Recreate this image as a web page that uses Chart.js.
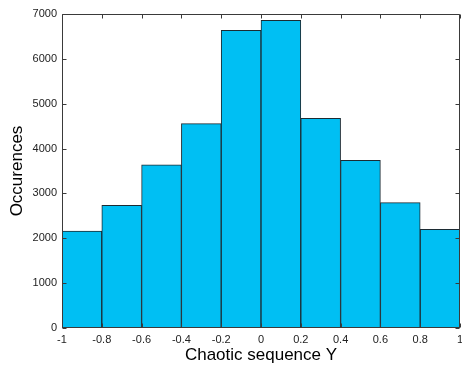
<!DOCTYPE html>
<html>
<head>
<meta charset="utf-8">
<script src="https://cdn.jsdelivr.net/npm/chart.js@4"></script>
<style>
html,body{margin:0;padding:0;background:#fff;}
#wrap{width:462px;height:369px;}
</style>
</head>
<body>
<div id="wrap"><canvas id="c" width="462" height="369"></canvas></div>
<script>
// Histogram data (bin centres and counts)
const binCenters = [-0.9, -0.7, -0.5, -0.3, -0.1, 0.1, 0.3, 0.5, 0.7, 0.9];
const counts = [2160, 2735, 3635, 4555, 6635, 6860, 4675, 3740, 2795, 2200];
const xTicks = [-1, -0.8, -0.6, -0.4, -0.2, 0, 0.2, 0.4, 0.6, 0.8, 1];
const yTicks = [0, 1000, 2000, 3000, 4000, 5000, 6000, 7000];
const xTitle = 'Chaotic sequence Y';
const yTitle = 'Occurences';

const boxPlugin = {
  id: 'boxTicks',
  afterDraw(chart) {
    const {ctx, chartArea: a, scales: {x, y}} = chart;
    ctx.save();
    ctx.strokeStyle = '#3a3a3a';
    ctx.lineWidth = 1;
    ctx.beginPath();
    const L = Math.round(a.left) + 0.5, R = Math.round(a.right) - 0.5;
    const T = Math.round(a.top) + 0.5, B = Math.round(a.bottom) - 0.5;
    ctx.rect(L, T, R - L, B - T);
    const tl = 4;
    yTicks.forEach(v => {
      const py = Math.round(y.getPixelForValue(v)) + 0.5;
      ctx.moveTo(L, py); ctx.lineTo(L + tl, py);
      ctx.moveTo(R, py); ctx.lineTo(R - tl, py);
    });
    xTicks.forEach(v => {
      const px = Math.round(x.getPixelForValue(v)) + 0.5;
      ctx.moveTo(px, B); ctx.lineTo(px, B - tl);
      ctx.moveTo(px, T); ctx.lineTo(px, T + tl);
    });
    ctx.stroke();
    ctx.restore();
  }
};

new Chart(document.getElementById('c'), {
  type: 'bar',
  data: {
    datasets: [{
      data: binCenters.map((c, i) => ({x: c, y: counts[i]})),
      backgroundColor: 'rgb(0,191,243)',
      borderColor: '#1c2b33',
      borderWidth: 1,
      barPercentage: 1,
      categoryPercentage: 1
    }]
  },
  options: {
    responsive: false,
    animation: false,
    devicePixelRatio: 1,
    layout: {padding: {top: 14, right: 2, left: 0, bottom: 0}},
    plugins: {legend: {display: false}, tooltip: {enabled: false}},
    scales: {
      x: {
        type: 'linear',
        offset: false,
        min: -1, max: 1,
        afterBuildTicks(s) { s.ticks = xTicks.map(v => ({value: v})); },
        afterFit(s) { s.height = 41; s.paddingLeft = 0; s.paddingRight = 0; },
        grid: {display: false, drawTicks: false},
        border: {display: false},
        ticks: {
          padding: 5,
          color: '#222',
          maxRotation: 0,
          autoSkip: false,
          font: {family: 'Liberation Sans, Arial, sans-serif', size: 11},
          callback: v => String(Number(v.toFixed(1)))
        },
        title: {
          display: true, text: xTitle, color: '#000',
          font: {family: 'Liberation Sans, Arial, sans-serif', size: 17},
          padding: {top: 0, bottom: 3}
        }
      },
      y: {
        min: 0, max: 7000,
        afterBuildTicks(s) { s.ticks = yTicks.map(v => ({value: v})); },
        afterFit(s) { s.width = 62; s.paddingTop = 0; s.paddingBottom = 0; },
        grid: {display: false, drawTicks: false},
        border: {display: false},
        ticks: {
          padding: 5,
          color: '#222',
          autoSkip: false,
          font: {family: 'Liberation Sans, Arial, sans-serif', size: 11},
          callback: v => String(v)
        },
        title: {
          display: true, text: yTitle, color: '#000',
          font: {family: 'Liberation Sans, Arial, sans-serif', size: 17},
          padding: {top: 7, bottom: 0}
        }
      }
    }
  },
  plugins: [boxPlugin]
});
</script>
</body>
</html>
